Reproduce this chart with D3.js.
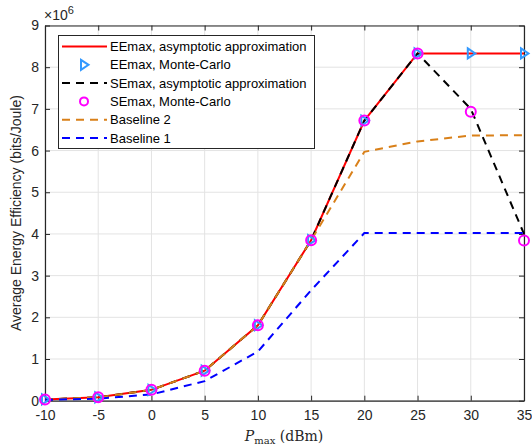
<!DOCTYPE html>
<html><head><meta charset="utf-8">
<script src="https://cdn.jsdelivr.net/npm/d3@7/dist/d3.min.js"></script>
<style>body{margin:0;background:#fff;}svg{display:block;font-family:"Liberation Sans",Arial,sans-serif;}</style>
</head><body>
<svg id="c" width="532" height="447"></svg>
<script>
const pmax = [-10,-5,0,5,10,15,20,25,30,35];
const eeAsym = [0.03,0.08,0.26,0.72,1.81,3.85,6.72,8.33,8.33,8.33];
const eeMC = [0.03,0.08,0.26,0.72,1.81,3.85,6.72,8.33,8.33,8.33];
const seAsym = [0.03,0.08,0.26,0.72,1.81,3.85,6.72,8.33,7.0,4.0];
const seMC = [0.03,0.08,0.26,0.72,1.81,3.85,6.72,8.33,6.93,3.84];
const baseline2 = [0.03,0.08,0.26,0.72,1.81,3.85,5.97,6.22,6.36,6.37];
const baseline1 = [0.02,0.05,0.15,0.47,1.18,2.65,4.02,4.02,4.02,4.02];
const xTicks = [-10,-5,0,5,10,15,20,25,30,35];
const yTicks = [0,1,2,3,4,5,6,7,8,9];

const svg = d3.select("#c");
const L=45,R=524,T=25.5,B=400.7;
const x = d3.scaleLinear().domain([-10,35]).range([L,R]);
const y = d3.scaleLinear().domain([0,9]).range([B,T]);
const axisCol="#262626";
const fmt = d=>String(d);

// grid
const g = svg.append("g");
g.selectAll(".gx").data(xTicks).join("line").attr("x1",d=>x(d)).attr("x2",d=>x(d)).attr("y1",T).attr("y2",B).attr("stroke","#e3e3e3").attr("stroke-width",1);
g.selectAll(".gy").data(yTicks).join("line").attr("y1",d=>y(d)).attr("y2",d=>y(d)).attr("x1",L).attr("x2",R).attr("stroke","#e3e3e3").attr("stroke-width",1);

// axes
const ax = svg.append("g").attr("transform",`translate(0,${B})`).call(d3.axisBottom(x).tickValues(xTicks).tickFormat(fmt).tickSizeInner(-5).tickSizeOuter(0).tickPadding(9));
const ay = svg.append("g").attr("transform",`translate(${L},0)`).call(d3.axisLeft(y).tickValues(yTicks).tickFormat(fmt).tickSizeInner(-5).tickSizeOuter(0).tickPadding(6));
const axT = svg.append("g").attr("transform",`translate(0,${T})`).call(d3.axisTop(x).tickValues(xTicks).tickSizeInner(-5).tickSizeOuter(0).tickFormat(""));
const ayR = svg.append("g").attr("transform",`translate(${R},0)`).call(d3.axisRight(y).tickValues(yTicks).tickSizeInner(-5).tickSizeOuter(0).tickFormat(""));
[ax,ay,axT,ayR].forEach(a=>{a.selectAll("path").attr("stroke",axisCol).attr("stroke-width",1.2);a.selectAll("line").attr("stroke",axisCol);a.selectAll("text").attr("fill",axisCol).attr("font-size",14).attr("font-family","Liberation Sans, Arial, sans-serif");});

// exponent
const ex = svg.append("text").attr("x",44).attr("y",20).attr("font-size",14).attr("fill",axisCol);
ex.append("tspan").text("×10");
ex.append("tspan").attr("dy",-6).attr("font-size",11).text("6");

// labels
svg.append("text").attr("transform",`translate(21,${(T+B)/2}) rotate(-90)`).attr("text-anchor","middle").attr("font-size",14).attr("fill",axisCol).text("Average Energy Efficiency (bits/Joule)");
const xl = svg.append("text").attr("x",284).attr("y",441).attr("text-anchor","middle").attr("font-family","DejaVu Serif, Liberation Serif, serif").attr("font-size",14).attr("fill",axisCol);
xl.append("tspan").attr("font-style","italic").text("P");
xl.append("tspan").attr("dy",3).attr("font-size",10).text("max");
xl.append("tspan").attr("dy",-3).text(" (dBm)");

const line = d3.line().x((d,i)=>x(pmax[i])).y(d=>y(d));
const plot = svg.append("g");
plot.append("path").datum(eeAsym).attr("d",line).attr("fill","none").attr("stroke","#ff0000").attr("stroke-width",2);
plot.append("path").datum(seAsym).attr("d",line).attr("fill","none").attr("stroke","#000").attr("stroke-width",2).attr("stroke-dasharray","8,6");
plot.append("path").datum(baseline2).attr("d",line).attr("fill","none").attr("stroke","#d98019").attr("stroke-width",2).attr("stroke-dasharray","8,6");
plot.append("path").datum(baseline1).attr("d",line).attr("fill","none").attr("stroke","#0000ff").attr("stroke-width",2).attr("stroke-dasharray","8,6");
const tri = (cx,cy,s)=>`M${cx-s*0.6},${cy-s} L${cx+s*0.9},${cy} L${cx-s*0.6},${cy+s} Z`;
plot.selectAll(".tri").data(eeMC).join("path").attr("d",(d,i)=>tri(x(pmax[i]),y(d),5)).attr("fill","none").attr("stroke","#3399ff").attr("stroke-width",2);
plot.selectAll(".circ").data(seMC).join("circle").attr("cx",(d,i)=>x(pmax[i])).attr("cy",d=>y(d)).attr("r",5).attr("fill","none").attr("stroke","#ff00ff").attr("stroke-width",2);

// legend
const lg = svg.append("g");
lg.append("rect").attr("x",58.5).attr("y",35.5).attr("width",256).attr("height",113).attr("fill","#fff").attr("stroke","#262626").attr("stroke-width",1);
const items = [
 {t:"EEmax, asymptotic approximation",c:"#ff0000",dash:null,m:null},
 {t:"EEmax, Monte-Carlo",c:"#3399ff",dash:null,m:"tri"},
 {t:"SEmax, asymptotic approximation",c:"#000",dash:"8,6",m:null},
 {t:"SEmax, Monte-Carlo",c:"#ff00ff",dash:null,m:"circ"},
 {t:"Baseline 2",c:"#d98019",dash:"8,6",m:null},
 {t:"Baseline 1",c:"#0000ff",dash:"8,6",m:null}
];
items.forEach((it,i)=>{
  const yy = 46.5 + i*18.3;
  if(it.m==="tri") lg.append("path").attr("d",tri(84,yy,5)).attr("fill","none").attr("stroke",it.c).attr("stroke-width",2);
  else if(it.m==="circ") lg.append("circle").attr("cx",84).attr("cy",yy).attr("r",4).attr("fill","none").attr("stroke",it.c).attr("stroke-width",2);
  else lg.append("line").attr("x1",62).attr("x2",107).attr("y1",yy).attr("y2",yy).attr("stroke",it.c).attr("stroke-width",2).attr("stroke-dasharray",it.dash);
  lg.append("text").attr("x",110).attr("y",yy+4.5).attr("font-size",13).attr("fill","#000").text(it.t);
});
</script>
</body></html>
